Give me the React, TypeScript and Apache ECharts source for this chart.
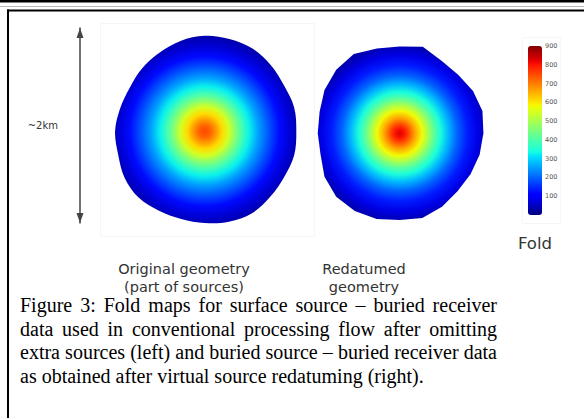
import React, { useEffect, useRef } from "react";
import * as echarts from "echarts";

// Fold colour scale
const FOLD_MIN = 0;
const FOLD_MAX = 900;
const FOLD_STEP = 100;

// Footprint boundaries: distance (km) from the centre, every 15°, counter-clockwise from east
const outlineAngles = [0, 15, 30, 45, 60, 75, 90, 105, 120, 135, 150, 165, 180, 195, 210, 225, 240, 255, 270, 285, 300, 315, 330, 345];
const originalOutline = [0.94, 0.95, 0.94, 0.96, 0.98, 0.98, 0.98, 0.96, 0.93, 0.91, 0.89, 0.9, 0.92, 0.92, 0.95, 0.96, 0.94, 0.93, 0.94, 0.96, 0.97, 0.95, 0.94, 0.95];
const redatumedOutline = [0.86, 0.88, 0.87, 0.85, 0.86, 0.92, 0.89, 0.9, 0.94, 0.92, 0.89, 0.85, 0.84, 0.84, 0.89, 0.92, 0.92, 0.91, 0.89, 0.9, 0.87, 0.84, 0.84, 0.85];

// Footprint centres (km)
const originalCentre = [1.28, 0.94];
const redatumedCentre = [3.28, 0.92];

// Radial fold profiles: distance from centre (km) and fold
const originalProfileRadius = [0, 0.06, 0.12, 0.18, 0.25, 0.31, 0.38, 0.46, 0.55, 0.66, 0.77, 0.88, 0.99];
const originalProfileFold = [750, 725, 670, 610, 545, 470, 395, 325, 255, 185, 120, 65, 30];
const redatumedProfileRadius = [0, 0.05, 0.1, 0.16, 0.23, 0.29, 0.35, 0.42, 0.5, 0.59, 0.7, 0.8, 0.9, 0.99];
const redatumedProfileFold = [830, 800, 740, 660, 580, 500, 420, 345, 275, 200, 135, 80, 40, 25];

const panelLabels = [
  ["Original geometry", "(part of sources)"],
  ["Redatumed", "geometry"],
];
const scaleBarLabel = "~2km";
const colorbarLabel = "Fold";
const captionLines = [
  "Figure 3: Fold maps for surface source \u2013 buried receiver",
  "data used in conventional processing flow after omitting",
  "extra sources (left) and buried source \u2013 buried receiver data",
  "as obtained after virtual source redatuming (right).",
];

// Jet colour map
const JET_R = [[0, 0], [0.35, 0], [0.66, 1], [0.89, 1], [1, 0.5]];
const JET_G = [[0, 0], [0.125, 0], [0.375, 1], [0.64, 1], [0.91, 0], [1, 0]];
const JET_B = [[0, 0.5], [0.11, 1], [0.34, 1], [0.65, 0], [1, 0]];
function channel(t: number, pts: number[][]) {
  for (let i = 1; i < pts.length; i++) {
    if (t <= pts[i][0]) {
      const [t0, v0] = pts[i - 1];
      const [t1, v1] = pts[i];
      return v0 + ((v1 - v0) * (t - t0)) / (t1 - t0);
    }
  }
  return pts[pts.length - 1][1];
}
const jetPalette = Array.from({ length: 65 }, (_, i) => {
  const t = i / 64;
  const r = Math.round(255 * channel(t, JET_R));
  const g = Math.round(255 * channel(t, JET_G));
  const b = Math.round(255 * channel(t, JET_B));
  return `rgb(${r},${g},${b})`;
});
const foldColour = (v: number) =>
  echarts.color.lerp((v - FOLD_MIN) / (FOLD_MAX - FOLD_MIN), jetPalette) as string;

const footprints = [
  { centre: originalCentre, outline: originalOutline, radius: originalProfileRadius, fold: originalProfileFold, smooth: 0.35 },
  { centre: redatumedCentre, outline: redatumedOutline, radius: redatumedProfileRadius, fold: redatumedProfileFold, smooth: 0 },
];

const SANS = '"DejaVu Sans", Verdana, sans-serif';
const SERIF = '"Liberation Serif", "Times New Roman", serif';
const CAPTION_SIZE = 20;
const CAPTION_LEFT = 20;
const CAPTION_RIGHT = 497;
const CAPTION_BASE = 312;
const CAPTION_LEADING = 23.5;

function captionGraphics() {
  const ctx = document.createElement("canvas").getContext("2d")!;
  ctx.font = `${CAPTION_SIZE}px ${SERIF}`;
  const space = ctx.measureText(" ").width;
  const out: any[] = [];
  captionLines.forEach((line, li) => {
    const words = line.split(" ");
    const widths = words.map((w) => ctx.measureText(w).width);
    const total = widths.reduce((a, b) => a + b, 0);
    const last = li === captionLines.length - 1;
    const gap = last ? space : (CAPTION_RIGHT - CAPTION_LEFT - total) / (words.length - 1);
    let x = CAPTION_LEFT;
    words.forEach((w, wi) => {
      out.push({
        type: "text",
        x,
        y: CAPTION_BASE + li * CAPTION_LEADING - 7,
        style: { text: w, fill: "#000", font: `${CAPTION_SIZE}px ${SERIF}`, textVerticalAlign: "middle" },
      });
      x += widths[wi] + gap;
    });
  });
  return out;
}

function buildOption() {
  const renderItem = (params: any, api: any) => {
    const fp = footprints[params.dataIndex];
    const cx = api.value(0);
    const cy = api.value(1);
    const points = outlineAngles.map((a, i) => {
      const t = (a * Math.PI) / 180;
      return api.coord([cx + fp.outline[i] * Math.cos(t), cy + fp.outline[i] * Math.sin(t)]);
    });
    const c = api.coord([cx, cy]);
    const pxPerKm = api.size([1, 0])[0];
    const rMax = fp.radius[fp.radius.length - 1];
    const stops = fp.radius.map((r: number, i: number) => ({ offset: r / rMax, color: foldColour(fp.fold[i]) }));
    return {
      type: "polygon",
      shape: { points, smooth: fp.smooth },
      style: { fill: new echarts.graphic.RadialGradient(c[0], c[1], rMax * pxPerKm, stops, true) },
    };
  };

  const labelStyle = { fill: "#333", font: `14.5px ${SANS}`, textAlign: "center", textVerticalAlign: "middle" };

  return {
    animation: false,
    backgroundColor: "#fff",
    grid: [
      { left: 80, top: 28, width: 419, height: 195, show: false },
      { left: 528, top: 46, width: 14, height: 169, show: false },
    ],
    xAxis: [
      { gridIndex: 0, type: "value", min: 0, max: 4.3, show: false },
      { gridIndex: 1, type: "value", min: 0, max: 1, show: false },
    ],
    yAxis: [
      {
        gridIndex: 0,
        type: "value",
        min: 0,
        max: 2,
        name: scaleBarLabel,
        nameLocation: "middle",
        nameRotate: 0,
        nameGap: 22,
        nameTextStyle: { color: "#333", fontSize: 10, fontFamily: SANS, padding: [8, 0, 0, 0] },
        axisLine: {
          show: true,
          symbol: ["triangle", "triangle"],
          symbolSize: [7, 10],
          symbolOffset: [5, -5],
          lineStyle: { color: "#444", width: 1.5 },
        },
        axisTick: { show: false },
        axisLabel: { show: false },
        splitLine: { show: false },
      },
      {
        gridIndex: 1,
        type: "value",
        min: FOLD_MIN,
        max: FOLD_MAX,
        interval: FOLD_STEP,
        position: "right",
        axisLine: { show: false },
        axisTick: { show: false },
        splitLine: { show: false },
        axisLabel: {
          fontSize: 6.5,
          color: "#555",
          margin: 3,
          fontFamily: SANS,
          formatter: (v: number) => (v === FOLD_MIN ? "" : String(v)),
        },
      },
    ],
    visualMap: {
      type: "continuous",
      min: FOLD_MIN,
      max: FOLD_MAX,
      dimension: 2,
      seriesIndex: 0,
      left: 528,
      top: 46,
      itemWidth: 14,
      itemHeight: 169,
      padding: 0,
      calculable: false,
      hoverLink: false,
      inRange: { color: jetPalette },
    },
    series: [
      {
        type: "custom",
        xAxisIndex: 0,
        yAxisIndex: 0,
        silent: true,
        renderItem,
        data: [
          [originalCentre[0], originalCentre[1], Math.max(...originalProfileFold)],
          [redatumedCentre[0], redatumedCentre[1], Math.max(...redatumedProfileFold)],
        ],
      },
    ],
    graphic: [
      // page frame
      { type: "rect", shape: { x: 0, y: 0, width: 584, height: 2.5 }, style: { fill: "#000" } },
      { type: "rect", shape: { x: 0, y: 6, width: 584, height: 1 }, style: { fill: "#b8b8b8" } },
      { type: "rect", shape: { x: 7, y: 9.5, width: 577, height: 2 }, style: { fill: "#000" } },
      { type: "rect", shape: { x: 7, y: 9.5, width: 2, height: 409 }, style: { fill: "#000" } },
      // faint panel edges
      { type: "rect", shape: { x: 100.5, y: 23.5, width: 214, height: 213 }, style: { fill: "none", stroke: "#f6f6f6", lineWidth: 1 } },
      { type: "rect", shape: { x: 522.5, y: 37.5, width: 38, height: 186 }, style: { fill: "none", stroke: "#f6f6f6", lineWidth: 1 } },
      // labels
      { type: "text", x: 535, y: 243, style: { ...labelStyle, text: colorbarLabel, font: `16.5px ${SANS}` } },
      { type: "text", x: 184, y: 269, style: { ...labelStyle, text: panelLabels[0][0] } },
      { type: "text", x: 184, y: 287, style: { ...labelStyle, text: panelLabels[0][1] } },
      { type: "text", x: 364, y: 269, style: { ...labelStyle, text: panelLabels[1][0] } },
      { type: "text", x: 364, y: 287, style: { ...labelStyle, text: panelLabels[1][1] } },
      ...captionGraphics(),
    ],
  };
}

export default function App() {
  const ref = useRef<HTMLDivElement>(null);
  useEffect(() => {
    if (!ref.current) return;
    const chart = echarts.init(ref.current, undefined, { renderer: "svg" });
    chart.setOption(buildOption() as any);
    return () => chart.dispose();
  }, []);
  return (
    <div
      ref={ref}
      style={{ position: "fixed", left: 0, top: 0, width: 584, height: 418, background: "#fff" }}
    />
  );
}
